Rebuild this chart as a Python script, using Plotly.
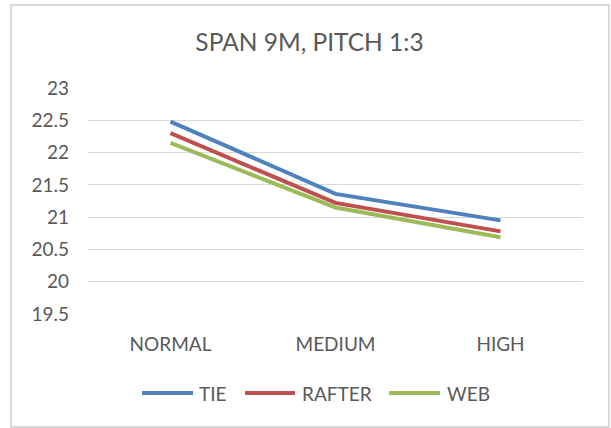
import plotly.graph_objects as go

categories = ["NORMAL", "MEDIUM", "HIGH"]
tie = [22.48, 21.36, 20.95]
rafter = [22.30, 21.22, 20.78]
web = [22.15, 21.15, 20.69]

series_names = ["TIE", "RAFTER", "WEB"]
series_values = [tie, rafter, web]
colors = ["#4F81BD", "#C0504D", "#9BBB59"]

W, H = 611, 428
L, R, T, B = 88, 28, 88, 114
pw, ph = W - L - R, H - T - B


def px_x(x):
    return (x - L) / pw


def px_y(y):
    return (H - B - y) / ph


fig = go.Figure()
for name, vals, col in zip(series_names, series_values, colors):
    fig.add_trace(go.Scatter(
        x=categories, y=vals, name=name, mode="lines",
        line=dict(color=col, width=4),
    ))

font_family = "Lato, 'Open Sans', sans-serif"
grey = "#595959"
fs = 19

# legend: coloured line sample followed by the series name
legend_items = [(142, 193, 197), (245, 295, 300), (389, 440, 445)]
legend_y = 393
shapes = [dict(type="rect", xref="paper", yref="paper",
               x0=px_x(11), x1=px_x(609), y0=px_y(427), y1=px_y(5),
               line=dict(color="#D9D9D9", width=2),
               fillcolor="rgba(0,0,0,0)", layer="below")]
annotations = []
for (lx0, lx1, tx), name, col in zip(legend_items, series_names, colors):
    shapes.append(dict(type="line", xref="paper", yref="paper",
                       x0=px_x(lx0), x1=px_x(lx1),
                       y0=px_y(legend_y), y1=px_y(legend_y),
                       line=dict(color=col, width=4)))
    annotations.append(dict(text=name, xref="paper", yref="paper",
                            x=px_x(tx), y=px_y(legend_y),
                            xanchor="left", yanchor="middle",
                            showarrow=False,
                            font=dict(size=fs, color=grey, family=font_family)))

fig.update_layout(
    width=W, height=H,
    margin=dict(l=L, r=R, t=T, b=B),
    paper_bgcolor="white", plot_bgcolor="white",
    font=dict(family=font_family, color=grey, size=fs),
    title=dict(text="SPAN 9M, PITCH 1:3", x=309.5 / W, xanchor="center",
               y=1 - 42 / H, yanchor="middle",
               font=dict(size=24.5, color=grey, family=font_family)),
    showlegend=False,
    xaxis=dict(type="category", range=[-0.5, 2.5], showgrid=False,
               showline=False, zeroline=False, ticks="",
               ticklabelstandoff=17, tickfont=dict(size=fs, color=grey)),
    yaxis=dict(range=[19.5, 23], dtick=0.5, tick0=19.5, showgrid=True,
               gridcolor="#D9D9D9", gridwidth=1, zeroline=False,
               showline=False, ticks="", ticklabelstandoff=18,
               tickfont=dict(size=fs, color=grey)),
    shapes=shapes,
    annotations=annotations,
)

fig.write_html("out.html")
